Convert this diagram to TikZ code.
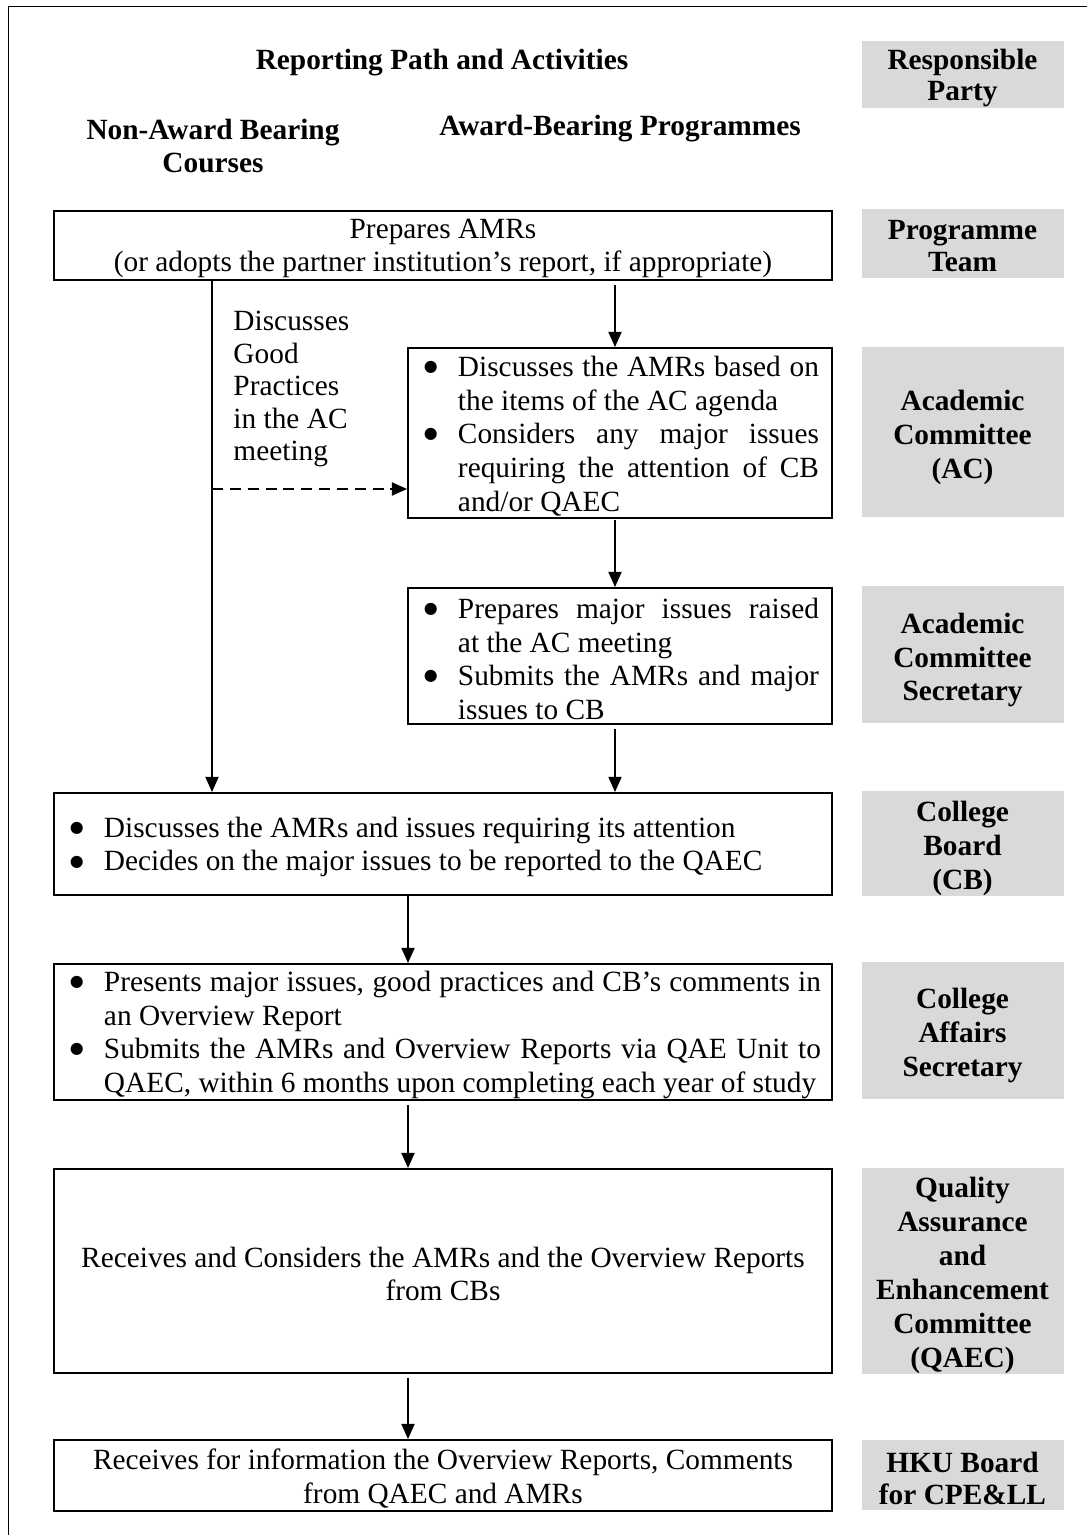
\documentclass[tikz,border=0pt]{standalone}
\usepackage{fontspec}
\setmainfont{Liberation Serif}
\newfontfamily\symbolfont{DejaVu Sans}
\usetikzlibrary{arrows.meta}

\definecolor{partygray}{RGB}{217,217,217}

% one drawing unit
\newlength{\pxu}\setlength{\pxu}{0.409pt}
% bullet layout inside the activity boxes
\newlength{\bulhang}\setlength{\bulhang}{38\pxu}
\newlength{\bulpre}\setlength{\bulpre}{4\pxu}
\newcommand{\bigbullet}{\raisebox{2pt}{\symbolfont\fontsize{6.5pt}{7pt}\selectfont ●}}
\newcommand{\bitem}[1]{\par\hangindent=\bulhang\hangafter=1\noindent
  \makebox[\bulhang][l]{\hspace{\bulpre}\bigbullet}#1}
% #1 box width, #2 right margin, #3 items
\newcommand{\bulletpar}[3]{\parbox{#1}{\fontsize{12pt}{13.8pt}\selectfont
  \vspace*{6\pxu}%
  \leftskip=12\pxu\rightskip=#2\relax\parfillskip=0pt plus 1fil
  \hyphenpenalty=10000\exhyphenpenalty=10000\tolerance=9999
  \emergencystretch=2em #3}}
% centred lines in an activity box
\newcommand{\ctrpar}[2]{\parbox{#1}{\fontsize{12pt}{13.8pt}\selectfont
  \vspace*{6\pxu}\centering #2\par}}
% bold text of a responsible party: #1 top padding, #2 line skip, #3 text
\newcommand{\ptext}[3]{\parbox{202\pxu}{\fontsize{12pt}{#2}\selectfont\bfseries
  \vspace*{#1}\centering #3\par}}

\tikzset{
  flowbox/.style={draw, line width=0.8pt, inner sep=0pt, anchor=north west},
  party/.style={fill=partygray, inner sep=0pt, anchor=north west, minimum width=202\pxu},
  head/.style={inner sep=0pt, align=center, font=\fontsize{12pt}{13.8pt}\selectfont\bfseries},
  flowarrow/.style={line width=0.6pt, -{Triangle[length=6.2pt,width=5.4pt]}},
  gaparrow/.style={flowarrow, shorten <=4\pxu},
  goodarrow/.style={line width=0.6pt, dash pattern=on 4.5pt off 2.8pt,
    -{Triangle[length=6.2pt,width=5.4pt]}},
}

\begin{document}
\begin{tikzpicture}[x=0.409pt, y=-0.409pt, font=\fontsize{12pt}{13.8pt}\selectfont]
\useasboundingbox (0,0) rectangle (1087,1535);
\clip (0,0) rectangle (1087,1535);

% page frame
\draw[line width=0.8pt] (8.5,1560) -- (8.5,6.5) -- (1110,6.5);

% column headings
\node[head] (title) at (442,63) {Reporting Path and Activities};
\node[head] (nonaward) at (213,146) {Non-Award Bearing\\Courses};
\node[head] (award) at (620,129) {Award-Bearing Programmes};

% responsible parties
\node[party, minimum height=67\pxu]  (rp)    at (861,41)   {\ptext{6\pxu}{12.8pt}{Responsible\\Party}};
\node[party, minimum height=69\pxu]  (pt)    at (861,209)  {\ptext{4\pxu}{12.8pt}{Programme\\Team}};
\node[party, minimum height=170\pxu] (acg)   at (861,347)  {\ptext{10\pxu}{13.8pt}{Academic\\Committee\\(AC)}};
\node[party, minimum height=137\pxu] (acsg)  at (861,586)  {\ptext{10\pxu}{13.8pt}{Academic\\Committee\\Secretary}};
\node[party, minimum height=102\pxu] (cbg)   at (861,791)  {\ptext{10\pxu}{13.8pt}{College\\Board\\(CB)}};
\node[party, minimum height=136\pxu] (casg)  at (861,962)  {\ptext{10\pxu}{13.8pt}{College\\Affairs\\Secretary}};
\node[party, minimum height=205\pxu] (qaecg) at (861,1167) {\ptext{10\pxu}{13.9pt}{Quality\\Assurance\\and\\Enhancement\\Committee\\(QAEC)}};
\node[party, minimum height=70\pxu]  (hkug)  at (861,1439) {\ptext{8\pxu}{13.2pt}{HKU Board\\for CPE\&LL}};

% activities
\node[flowbox, minimum width=778\pxu, minimum height=69\pxu] (prep) at (53,210)
  {\ctrpar{778\pxu}{Prepares AMRs\\(or adopts the partner institution’s report, if appropriate)}};

\node[flowbox, minimum width=424\pxu, minimum height=170\pxu] (ac) at (407,347)
  {\bulletpar{424\pxu}{13\pxu}{%
    \bitem{Discusses the AMRs based on\linebreak the items of the AC agenda}%
    \bitem{Considers any major issues\linebreak requiring the attention of CB\linebreak and/or QAEC}}};

\node[flowbox, minimum width=424\pxu, minimum height=136\pxu] (acs) at (407,587)
  {\bulletpar{424\pxu}{13\pxu}{%
    \bitem{Prepares major issues raised\linebreak at the AC meeting}%
    \bitem{Submits the AMRs and major\linebreak issues to CB}}};

\node[flowbox, minimum width=778\pxu, minimum height=102\pxu] (cb) at (53,792)
  {\bulletpar{778\pxu}{12\pxu}{%
    \bitem{Discusses the AMRs and issues requiring its attention}%
    \bitem{Decides on the major issues to be reported to the QAEC}}};

\node[flowbox, minimum width=778\pxu, minimum height=136\pxu] (cas) at (53,963)
  {\bulletpar{778\pxu}{11\pxu}{%
    \bitem{Presents major issues, good practices and CB’s comments in\linebreak an Overview Report}%
    \bitem{Submits the AMRs and Overview Reports via QAE Unit to\linebreak QAEC, within 6 months upon completing each year of study}}};

\node[flowbox, minimum width=778\pxu, minimum height=204\pxu] (qaec) at (53,1168)
  {\ctrpar{778\pxu}{Receives and Considers the AMRs and the Overview Reports\\from CBs}};

\node[flowbox, minimum width=778\pxu, minimum height=71\pxu] (hku) at (53,1439)
  {\ctrpar{778\pxu}{Receives for information the Overview Reports, Comments\\from QAEC and AMRs}};

% side note on good practices
\node[inner sep=0pt, anchor=west, align=left, font=\fontsize{12pt}{13.3pt}\selectfont] (gp) at (233,389)
  {Discusses\\Good\\Practices\\in the AC\\meeting};

% connector columns
\coordinate (lcol) at (212,0);
\coordinate (rcol) at (615,0);
\coordinate (mcol) at (408,0);
\coordinate (dashrow) at (0,489);

\draw[line width=0.6pt] (prep.south -| lcol) -- (dashrow -| lcol);
\draw[flowarrow] (dashrow -| lcol) -- (cb.north -| lcol);
\draw[goodarrow] (dashrow -| lcol) -- (dashrow -| ac.west);

\draw[gaparrow] (prep.south -| rcol) -- (ac.north -| rcol);
\draw[flowarrow, shorten <=1.5\pxu] (ac.south -| rcol) -- (acs.north -| rcol);
\draw[gaparrow] (acs.south -| rcol) -- (cb.north -| rcol);

\draw[flowarrow] (cb.south -| mcol) -- (cas.north -| mcol);
\draw[gaparrow] (cas.south -| mcol) -- (qaec.north -| mcol);
\draw[gaparrow] (qaec.south -| mcol) -- (hku.north -| mcol);
\end{tikzpicture}
\end{document}
